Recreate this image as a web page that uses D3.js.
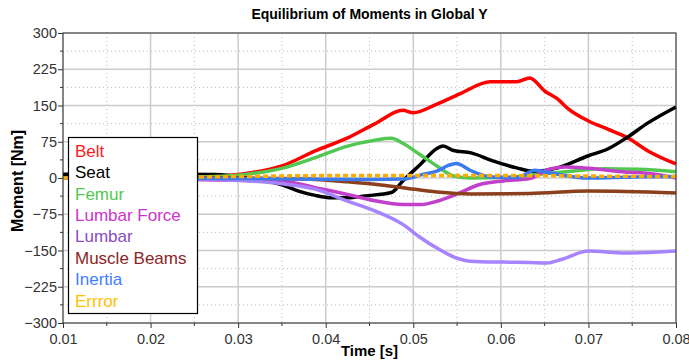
<!DOCTYPE html>
<html>
<head>
<meta charset="utf-8">
<script src="https://cdn.jsdelivr.net/npm/d3@7"></script>
<style>
  body { margin: 0; background: #fff; }
  svg { display: block; font-family: "Liberation Sans", Arial, sans-serif; }
</style>
</head>
<body>
<svg width="689" height="360"></svg>
<script>
// Series (time [s], moment [Nm])
const belt = [[0.01,0],[0.02,1],[0.0274,4],[0.0311,10],[0.035,25],[0.0388,56],[0.0425,83],[0.0456,112],
  [0.0488,140],[0.05,135],[0.0527,153],[0.0553,174],[0.0588,199],[0.0618,199],[0.0633,207],[0.065,180],
  [0.0665,163],[0.0677,143],[0.07,118],[0.0722,101],[0.0745,83],[0.0768,56],[0.08,29]];
const seat = [[0.01,8],[0.02,8],[0.0274,7],[0.0311,0],[0.035,-14],[0.0369,-27],[0.0388,-36],[0.0407,-41],
  [0.0425,-41],[0.0445,-37],[0.0475,-30],[0.0488,-6],[0.0508,28],[0.0527,61],[0.0534,66],[0.0546,57],
  [0.0566,52],[0.059,36],[0.0618,21],[0.0637,14],[0.0665,21],[0.07,46],[0.0722,60],[0.0745,85],[0.0768,114],[0.08,147]];
const femur = [[0.01,0],[0.02,1],[0.0274,3],[0.0311,8],[0.035,20],[0.0388,42],[0.0425,66],[0.0456,78],
  [0.0475,82],[0.0488,72],[0.0508,48],[0.0527,25],[0.0546,4],[0.0566,0],[0.0604,1],[0.0643,8],
  [0.0681,14],[0.0718,19],[0.0757,18],[0.08,13]];
const lumbarForce = [[0.01,0],[0.02,-2],[0.0274,-4],[0.035,-6],[0.0388,-20],[0.0425,-34],[0.0456,-47],
  [0.0488,-55],[0.051,-55],[0.0527,-48],[0.055,-33],[0.0575,-14],[0.0603,-6],[0.0633,-1],[0.0655,18],
  [0.0674,23],[0.0701,20],[0.0739,13],[0.0776,8],[0.08,0]];
const lumbar = [[0.01,0],[0.02,-1],[0.0274,-3],[0.0311,-6],[0.035,-12],[0.0388,-23],[0.0425,-48],[0.0456,-68],
  [0.0488,-96],[0.0508,-123],[0.0527,-145],[0.055,-166],[0.0565,-172],[0.0603,-174],[0.0633,-175],
  [0.0652,-176],[0.067,-168],[0.07,-151],[0.0742,-155],[0.078,-153],[0.08,-151]];
const muscleBeams = [[0.01,0],[0.025,0],[0.035,-1],[0.0388,-3],[0.0425,-8],[0.0456,-13],[0.0488,-20],
  [0.0527,-29],[0.0566,-33],[0.0633,-32],[0.07,-27],[0.08,-31]];
const inertia = [[0.01,0],[0.03,-1],[0.045,-3],[0.049,-2],[0.0512,8],[0.0527,14],[0.054,26],[0.0549,30],
  [0.0566,15],[0.059,2],[0.0618,1],[0.0639,16],[0.0658,10],[0.07,0],[0.075,2],[0.08,3]];
const errror = [[0.01,0],[0.02,1],[0.03,3],[0.04,5],[0.05,5],[0.06,5],[0.07,4],[0.08,3]];

const seriesNames = ["Belt","Seat","Femur","Lumbar Force","Lumbar","Muscle Beams","Inertia","Errror"];
const seriesData = [belt, seat, femur, lumbarForce, lumbar, muscleBeams, inertia, errror];
const lineColors = ["#ff0000","#000000","#52c852","#c23fcc","#a784ff","#8b3f1c","#3c7af0","#ffab00"];
const textColors = ["#ff1a1a","#000000","#52c852","#cc33cc","#8a4cc0","#8b2525","#3f7fff","#ffc000"];

const xTicks = [0.01,0.02,0.03,0.04,0.05,0.06,0.07,0.08];
const yTicks = [-300,-225,-150,-75,0,75,150,225,300];

const svg = d3.select("svg");
const plot = { left: 63, right: 676, top: 33, bottom: 323 };

const x = d3.scaleLinear().domain([0.01, 0.08]).range([plot.left, plot.right]);
const y = d3.scaleLinear().domain([-300, 300]).range([plot.bottom, plot.top]);

const xMinor = xTicks.slice(0, -1).map(d => d + 0.005);
const yMinor = yTicks.slice(0, -1).map(d => d + 37.5);

// Grille
const grid = svg.append("g");
grid.selectAll(".vminor").data(xMinor).enter().append("line")
  .attr("x1", d => x(d)).attr("x2", d => x(d)).attr("y1", plot.top).attr("y2", plot.bottom)
  .attr("stroke", "#bdbdbd").attr("stroke-dasharray", "1,3");
grid.selectAll(".hminor").data(yMinor).enter().append("line")
  .attr("x1", plot.left).attr("x2", plot.right).attr("y1", d => y(d)).attr("y2", d => y(d))
  .attr("stroke", "#bdbdbd").attr("stroke-dasharray", "1,3");
grid.selectAll(".vmajor").data(xTicks).enter().append("line")
  .attr("x1", d => x(d)).attr("x2", d => x(d)).attr("y1", plot.top).attr("y2", plot.bottom)
  .attr("stroke", "#cccccc").attr("stroke-width", 1.5);
grid.selectAll(".hmajor").data(yTicks).enter().append("line")
  .attr("x1", plot.left).attr("x2", plot.right).attr("y1", d => y(d)).attr("y2", d => y(d))
  .attr("stroke", "#cccccc").attr("stroke-width", 1.5);

// Courbes
const line = d3.line().x(d => x(d[0])).y(d => y(d[1])).curve(d3.curveMonotoneX);
svg.append("g").selectAll("path").data(seriesData).enter().append("path")
  .attr("d", line)
  .attr("fill", "none")
  .attr("stroke", (d, i) => lineColors[i])
  .attr("stroke-width", 3.5)
  .attr("stroke-linejoin", "round")
  .attr("stroke-dasharray", (d, i) => seriesNames[i] === "Errror" ? "5,3" : null);

// Cadre
svg.append("rect")
  .attr("x", plot.left).attr("y", plot.top)
  .attr("width", plot.right - plot.left).attr("height", plot.bottom - plot.top)
  .attr("fill", "none").attr("stroke", "#333").attr("stroke-width", 1);

// Axes
const xAxis = svg.append("g").attr("transform", `translate(0,${plot.bottom})`)
  .call(d3.axisBottom(x).tickValues(xTicks).tickSize(5).tickFormat(d3.format(".2f")));
const yAxis = svg.append("g").attr("transform", `translate(${plot.left},0)`)
  .call(d3.axisLeft(y).tickValues(yTicks).tickSize(5).tickFormat(d3.format("d")));
[xAxis, yAxis].forEach(a => {
  a.select(".domain").remove();
  a.selectAll("line").attr("stroke", "#333");
  a.selectAll("text").attr("fill", "#333").style("font-size", "14.5px").style("font-family", "Liberation Sans, Arial, sans-serif");
});
xAxis.selectAll("text").attr("dy", "0.9em");
yAxis.selectAll("text").attr("x", -6);

svg.append("g").selectAll("line").data(xMinor).enter().append("line")
  .attr("x1", d => x(d)).attr("x2", d => x(d)).attr("y1", plot.bottom).attr("y2", plot.bottom + 3)
  .attr("stroke", "#333");
svg.append("g").selectAll("line").data(yMinor).enter().append("line")
  .attr("x1", plot.left - 3).attr("x2", plot.left).attr("y1", d => y(d)).attr("y2", d => y(d))
  .attr("stroke", "#333");

// Titres
svg.append("text").attr("x", (plot.left + plot.right) / 2).attr("y", 19)
  .attr("text-anchor", "middle").style("font-size", "14px").style("font-weight", "bold")
  .text("Equilibrium of Moments in Global Y");
svg.append("text").attr("x", (plot.left + plot.right) / 2).attr("y", 356)
  .attr("text-anchor", "middle").style("font-size", "15px").style("font-weight", "bold")
  .text("Time [s]");
svg.append("text").attr("transform", `translate(23,${(plot.top + plot.bottom) / 2 + 3}) rotate(-90)`)
  .attr("text-anchor", "middle").style("font-size", "16px").style("font-weight", "bold")
  .text("Moment [Nm]");

// Légende
const legend = svg.append("g");
legend.append("rect").attr("x", 68.5).attr("y", 137.5).attr("width", 129).attr("height", 176)
  .attr("fill", "#fff").attr("stroke", "#000").attr("stroke-width", 1.2);
legend.selectAll("text").data(seriesNames).enter().append("text")
  .attr("x", 75).attr("y", (d, i) => 156.7 + i * 21.43)
  .style("font-size", "17px").attr("fill", (d, i) => textColors[i])
  .text(d => d);
</script>
</body>
</html>
